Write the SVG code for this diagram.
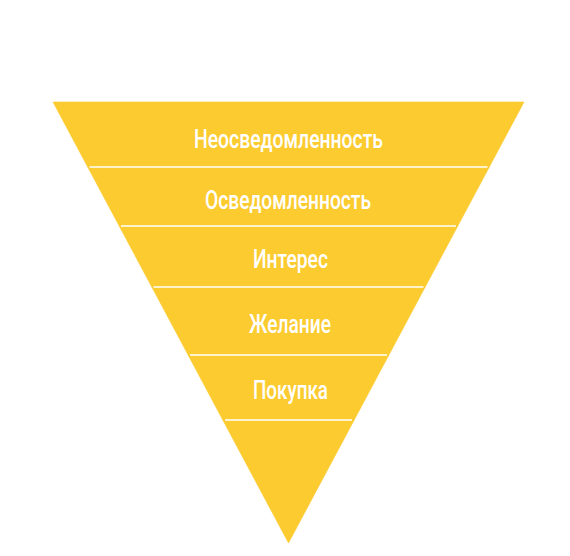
<svg xmlns="http://www.w3.org/2000/svg" width="570" height="556" viewBox="0 0 570 556">
  <style>
    .band { fill: #FCCB2F; stroke: #FCCB2F; stroke-width: 0.6; }
    .lbl { fill: #FFFFFF; font-family: "Roboto", "Liberation Sans", "DejaVu Sans", sans-serif; font-weight: 500; font-size: 26px; text-anchor: middle; }
    .sep { stroke: #FFFFFF; stroke-width: 1.3; fill: none; }
  </style>
  <rect x="0" y="0" width="570" height="556" fill="#FFFFFF"/>
  <g id="band-neosvedomlennost">
    <polygon class="band" points="53,102 524,102 489.3,167 87.7,167"/>
    <text class="lbl" x="288.5" y="148" textLength="189" lengthAdjust="spacingAndGlyphs">Неосведомленность</text>
  </g>
  <g id="band-osvedomlennost">
    <polygon class="band" points="87.7,167 489.3,167 457.8,226 119.2,226"/>
    <text class="lbl" x="288" y="209" textLength="166" lengthAdjust="spacingAndGlyphs">Осведомленность</text>
  </g>
  <g id="band-interes">
    <polygon class="band" points="119.2,226 457.8,226 425.2,287 151.8,287"/>
    <text class="lbl" x="290.5" y="268" textLength="75" lengthAdjust="spacingAndGlyphs">Интерес</text>
  </g>
  <g id="band-zhelanie">
    <polygon class="band" points="151.8,287 425.2,287 388.9,355 188.1,355"/>
    <text class="lbl" x="290" y="333" textLength="82" lengthAdjust="spacingAndGlyphs">Желание</text>
  </g>
  <g id="band-pokupka">
    <polygon class="band" points="188.1,355 388.9,355 354.2,420 222.8,420"/>
    <text class="lbl" x="290.5" y="399" textLength="75" lengthAdjust="spacingAndGlyphs">Покупка</text>
  </g>
  <g id="band-bottom">
    <polygon class="band" points="222.8,420 354.2,420 288.5,543"/>
  </g>
  <g id="separators">
    <line class="sep" x1="89.5" y1="167" x2="487.5" y2="167"/>
    <line class="sep" x1="121" y1="226" x2="456" y2="226"/>
    <line class="sep" x1="153.5" y1="287" x2="423.5" y2="287"/>
    <line class="sep" x1="190" y1="355" x2="387" y2="355"/>
    <line class="sep" x1="225" y1="420" x2="352" y2="420"/>
  </g>
</svg>
